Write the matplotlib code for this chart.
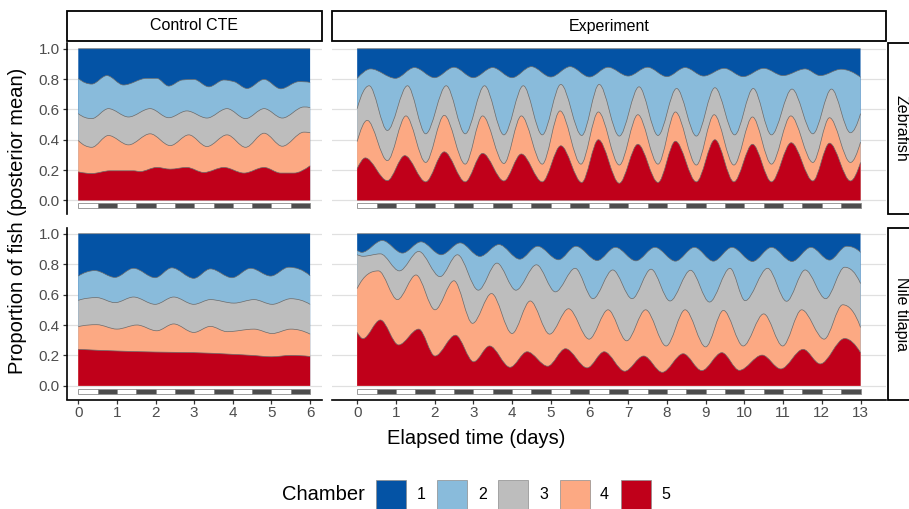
import numpy as np
import matplotlib
matplotlib.use("Agg")
import matplotlib.pyplot as plt
from matplotlib.path import Path
from matplotlib.patches import PathPatch, Rectangle

plt.rcParams["font.family"] = ["Liberation Sans", "DejaVu Sans"]

# ----------------------------------------
# chart data
# ----------------------------------------
chambers = ["1", "2", "3", "4", "5"]
chamber_colors = ["#0453A5", "#89BBDB", "#BDBDBD", "#FCA983", "#C0001A"]
species = ["Zebrafish", "Nile tilapia"]
treatments = ["Control CTE", "Experiment"]
n_days = [6, 13]
photoperiod = ["light", "dark"]          # each day: lights on, then off
photo_colors = {"light": "white", "dark": "#4D4D4D"}
y_ticks = [0.0, 0.2, 0.4, 0.6, 0.8, 1.0]

# upper edge of each stacked chamber band (time in days, cumulative proportion),
# read off the picture at the local peaks / troughs of each edge
zf_ctl_c1 = [(0, 1.0), (6, 1.0)]
zf_ctl_c2 = [(0, 0.805), (0.35, 0.767), (0.74, 0.823), (1.17, 0.761), (1.77, 0.805), (2.03, 0.805),
             (2.34, 0.754), (2.69, 0.794), (2.99, 0.798), (3.38, 0.749), (3.77, 0.794), (4.03, 0.783),
             (4.37, 0.738), (4.81, 0.798), (5.24, 0.736), (5.71, 0.783), (6.0, 0.778)]
zf_ctl_c3 = [(0, 0.572), (0.35, 0.539), (0.78, 0.605), (1.3, 0.55), (1.86, 0.605), (2.34, 0.545),
             (2.81, 0.59), (3.33, 0.543), (3.85, 0.605), (4.33, 0.539), (4.81, 0.605), (5.28, 0.543),
             (5.84, 0.616), (6.0, 0.612)]
zf_ctl_c4 = [(0, 0.395), (0.35, 0.35), (0.78, 0.428), (1.3, 0.366), (1.86, 0.439), (2.38, 0.361),
             (2.86, 0.432), (3.33, 0.355), (3.85, 0.432), (4.33, 0.35), (4.81, 0.443), (5.28, 0.357),
             (5.84, 0.45), (6.0, 0.446)]
zf_ctl_c5 = [(0, 0.188), (0.35, 0.177), (0.82, 0.195), (1.43, 0.195), (1.6, 0.19), (2.03, 0.217),
             (2.38, 0.206), (2.81, 0.217), (3.25, 0.184), (3.77, 0.217), (4.29, 0.18), (4.81, 0.217),
             (5.24, 0.18), (5.58, 0.18), (6.0, 0.228)]

zf_exp_c1 = [(0, 1.0), (13, 1.0)]
zf_exp_c2 = [(0, 0.805), (0.35, 0.867), (0.99, 0.805), (1.48, 0.876), (2.0, 0.809), (2.5, 0.878),
             (3.0, 0.809), (3.5, 0.876), (4.0, 0.809), (4.5, 0.882), (5.0, 0.814), (5.5, 0.882),
             (6.0, 0.814), (6.48, 0.878), (7.0, 0.82), (7.5, 0.878), (8.0, 0.816), (8.47, 0.876),
             (8.95, 0.82), (9.48, 0.871), (9.97, 0.816), (10.5, 0.871), (11.0, 0.823), (11.57, 0.867),
             (11.96, 0.823), (12.5, 0.865), (13.0, 0.812)]
zf_exp_c3 = [(0, 0.605), (0.31, 0.756), (0.78, 0.461), (1.3, 0.756), (1.77, 0.439), (2.3, 0.756),
             (2.79, 0.439), (3.29, 0.756), (3.79, 0.432), (4.29, 0.756), (4.78, 0.432), (5.26, 0.765),
             (5.8, 0.428), (6.25, 0.765), (6.77, 0.424), (7.28, 0.749), (7.77, 0.428), (8.25, 0.738),
             (8.76, 0.424), (9.24, 0.743), (9.75, 0.432), (10.23, 0.738), (10.7, 0.432), (11.23, 0.734),
             (11.77, 0.439), (12.25, 0.734), (12.74, 0.446), (13.0, 0.572)]
zf_exp_c4 = [(0, 0.388), (0.26, 0.528), (0.78, 0.262), (1.26, 0.557), (1.77, 0.25), (2.25, 0.561),
             (2.79, 0.239), (3.24, 0.557), (3.79, 0.243), (4.24, 0.557), (4.78, 0.239), (5.24, 0.59),
             (5.78, 0.239), (6.23, 0.583), (6.77, 0.233), (7.25, 0.565), (7.77, 0.239), (8.22, 0.583),
             (8.76, 0.233), (9.22, 0.565), (9.73, 0.233), (10.21, 0.55), (10.7, 0.239), (11.2, 0.557),
             (11.77, 0.25), (12.2, 0.545), (12.74, 0.25), (13.0, 0.384)]
zf_exp_c5 = [(0, 0.21), (0.21, 0.28), (0.78, 0.13), (1.23, 0.295), (1.77, 0.122), (2.25, 0.32),
             (2.79, 0.122), (3.24, 0.31), (3.79, 0.128), (4.24, 0.306), (4.78, 0.122), (5.26, 0.36),
             (5.8, 0.118), (6.23, 0.4), (6.77, 0.113), (7.25, 0.37), (7.77, 0.118), (8.22, 0.39),
             (8.76, 0.122), (9.24, 0.4), (9.73, 0.122), (10.21, 0.37), (10.7, 0.122), (11.21, 0.38),
             (11.77, 0.128), (12.2, 0.377), (12.74, 0.128), (13.0, 0.25)]

nt_ctl_c1 = [(0, 1.0), (6, 1.0)]
nt_ctl_c2 = [(0, 0.722), (0.43, 0.758), (0.95, 0.713), (1.43, 0.773), (1.99, 0.711), (2.42, 0.776),
             (2.99, 0.707), (3.42, 0.769), (3.98, 0.711), (4.46, 0.773), (4.98, 0.722), (5.45, 0.78),
             (6.0, 0.724)]
nt_ctl_c3 = [(0, 0.562), (0.48, 0.58), (0.95, 0.547), (1.43, 0.584), (1.99, 0.536), (2.47, 0.584),
             (2.99, 0.536), (3.42, 0.567), (4.03, 0.544), (4.55, 0.567), (5.02, 0.536), (5.5, 0.573),
             (6.0, 0.536)]
nt_ctl_c4 = [(0, 0.389), (0.48, 0.402), (1.0, 0.373), (1.52, 0.4), (2.03, 0.362), (2.47, 0.407),
             (2.99, 0.351), (3.42, 0.391), (3.85, 0.356), (4.55, 0.373), (5.02, 0.344), (5.5, 0.373),
             (6.0, 0.34)]
nt_ctl_c5 = [(0, 0.24), (1.0, 0.229), (2.0, 0.222), (3.0, 0.218), (4.0, 0.207), (4.5, 0.2),
             (5.0, 0.191), (5.5, 0.2), (6.0, 0.193)]

nt_exp_c1 = [(0, 1.0), (13, 1.0)]
nt_exp_c2 = [(0, 0.891), (0.12, 0.878), (0.65, 0.956), (1.17, 0.873), (1.65, 0.947), (2.17, 0.862),
             (2.66, 0.94), (3.17, 0.851), (3.66, 0.929), (4.2, 0.833), (4.66, 0.918), (5.2, 0.829),
             (5.65, 0.918), (6.2, 0.824), (6.67, 0.911), (7.2, 0.822), (7.69, 0.911), (8.22, 0.82),
             (8.71, 0.911), (9.2, 0.82), (9.68, 0.911), (10.21, 0.818), (10.7, 0.911), (11.23, 0.818),
             (11.72, 0.911), (12.2, 0.827), (12.64, 0.918), (13.0, 0.878)]
nt_exp_c3 = [(0, 0.862), (0.15, 0.852), (0.6, 0.868), (1.09, 0.756), (1.59, 0.884), (2.14, 0.718),
             (2.59, 0.862), (3.13, 0.629), (3.61, 0.807), (4.1, 0.629), (4.63, 0.796), (5.12, 0.618),
             (5.63, 0.773), (6.09, 0.573), (6.6, 0.762), (7.1, 0.573), (7.59, 0.767), (8.08, 0.558),
             (8.61, 0.76), (9.1, 0.551), (9.63, 0.773), (10.02, 0.56), (10.6, 0.773), (11.09, 0.556),
             (11.57, 0.762), (12.1, 0.573), (12.59, 0.78), (13.0, 0.673)]
nt_exp_c4 = [(0, 0.64), (0.55, 0.756), (1.04, 0.567), (1.52, 0.729), (2.01, 0.5), (2.5, 0.691),
             (2.98, 0.411), (3.47, 0.607), (4.0, 0.344), (4.47, 0.558), (4.97, 0.34), (5.46, 0.507),
             (5.99, 0.307), (6.48, 0.5), (6.96, 0.296), (7.45, 0.5), (7.98, 0.262), (8.47, 0.5),
             (9.0, 0.256), (9.46, 0.496), (9.97, 0.262), (10.5, 0.473), (10.99, 0.262), (11.48, 0.5),
             (12.06, 0.307), (12.54, 0.533), (13.0, 0.384)]
nt_exp_c5 = [(0, 0.351), (0.15, 0.31), (0.6, 0.433), (1.07, 0.269), (1.59, 0.373), (2.01, 0.196),
             (2.54, 0.333), (3.01, 0.158), (3.42, 0.262), (3.95, 0.122), (4.39, 0.224), (4.92, 0.129),
             (5.38, 0.244), (5.94, 0.118), (6.38, 0.224), (6.91, 0.096), (7.4, 0.196), (7.88, 0.089),
             (8.42, 0.211), (8.9, 0.1), (9.42, 0.218), (9.87, 0.102), (10.46, 0.202), (10.94, 0.111),
             (11.52, 0.24), (11.96, 0.144), (12.59, 0.311), (13.0, 0.218)]

edges = {
    ("Zebrafish", "Control CTE"): [zf_ctl_c1, zf_ctl_c2, zf_ctl_c3, zf_ctl_c4, zf_ctl_c5],
    ("Zebrafish", "Experiment"): [zf_exp_c1, zf_exp_c2, zf_exp_c3, zf_exp_c4, zf_exp_c5],
    ("Nile tilapia", "Control CTE"): [nt_ctl_c1, nt_ctl_c2, nt_ctl_c3, nt_ctl_c4, nt_ctl_c5],
    ("Nile tilapia", "Experiment"): [nt_exp_c1, nt_exp_c2, nt_exp_c3, nt_exp_c4, nt_exp_c5],
}


# ----------------------------------------
# smooth edge as a bezier path (monotone cubic slopes)
# ----------------------------------------
def edge_slopes(t, v):
    h = np.diff(t)
    d = np.diff(v) / h
    m = np.zeros_like(v)
    if len(v) == 2:
        m[:] = d[0]
        return m
    for k in range(1, len(v) - 1):
        if d[k - 1] * d[k] > 0:
            w1 = 2 * h[k] + h[k - 1]
            w2 = h[k] + 2 * h[k - 1]
            m[k] = (w1 + w2) / (w1 / d[k - 1] + w2 / d[k])

    def end(h0, h1, d0, d1):
        s = ((2 * h0 + h1) * d0 - h0 * d1) / (h0 + h1)
        if np.sign(s) != np.sign(d0):
            return 0.0
        if np.sign(d0) != np.sign(d1) and abs(s) > abs(3 * d0):
            return 3 * d0
        return s

    m[0] = end(h[0], h[1], d[0], d[1])
    m[-1] = end(h[-1], h[-2], d[-1], d[-2])
    return m


def edge_path(edge):
    t = np.array([p[0] for p in edge], float)
    v = np.array([p[1] for p in edge], float)
    m = edge_slopes(t, v)
    verts = [(t[0], v[0])]
    codes = [Path.MOVETO]
    for k in range(len(t) - 1):
        dt = (t[k + 1] - t[k]) / 3
        verts += [(t[k] + dt, v[k] + m[k] * dt),
                  (t[k + 1] - dt, v[k + 1] - m[k + 1] * dt),
                  (t[k + 1], v[k + 1])]
        codes += [Path.CURVE4] * 3
    return verts, codes


# ----------------------------------------
# layout (pixels of a 909 x 509 figure)
# ----------------------------------------
W, H = 909, 509
col_px = [(66.7, 321.7), (332.0, 885.7)]
row_px = [(42.7, 214.0), (227.7, 399.5)]
x_lims = [(-0.3, 6.3), (-0.65, 13.65)]

fig = plt.figure(figsize=(W / 100, H / 100), dpi=100)


def fig_box(x0, y0, x1, y1):
    return [x0 / W, 1 - y1 / H, (x1 - x0) / W, (y1 - y0) / H]


for i, sp in enumerate(species):
    for j, tr in enumerate(treatments):
        ax = fig.add_axes(fig_box(col_px[j][0], row_px[i][0], col_px[j][1], row_px[i][1]))
        ax.set_xlim(*x_lims[j])
        ax.set_ylim(-0.09, 1.04)

        for k, edge in enumerate(edges[(sp, tr)]):
            verts, codes = edge_path(edge)
            t0, t1 = edge[0][0], edge[-1][0]
            fill_verts = [(t0, 0.0)] + verts + [(t1, 0.0), (t0, 0.0)]
            fill_codes = [Path.MOVETO, Path.LINETO] + codes[1:] + [Path.LINETO, Path.CLOSEPOLY]
            ax.add_patch(PathPatch(Path(fill_verts, fill_codes), facecolor=chamber_colors[k],
                                   edgecolor="none", zorder=2))
        for edge in edges[(sp, tr)]:
            verts, codes = edge_path(edge)
            ax.add_patch(PathPatch(Path(verts, codes), fill=False, edgecolor="#6a6a6a",
                                   linewidth=0.5, zorder=3))

        # light / dark bar under the areas
        starts, cols = [], []
        for d in range(n_days[j]):
            for p, phase in enumerate(photoperiod):
                starts.append(d + p / len(photoperiod))
                cols.append(photo_colors[phase])
        ax.bar(starts, 0.034, width=1 / len(photoperiod), bottom=-0.052, align="edge",
               color=cols, edgecolor="#8c8c8c", linewidth=0.6, zorder=2)

        ax.set_axisbelow(True)
        ax.set_yticks(y_ticks)
        ax.yaxis.grid(True, color="#E0E0E0", linewidth=0.9)
        ax.set_xticks(range(n_days[j] + 1))
        for s in ["top", "right", "left", "bottom"]:
            ax.spines[s].set_visible(False)
        ax.tick_params(colors="#333333", labelcolor="#4D4D4D", labelsize=11, width=0.9, length=3)

        if j == 0:
            ax.spines["left"].set_visible(True)
            ax.spines["left"].set_linewidth(1.2)
            ax.set_yticklabels([f"{y:.1f}" for y in y_ticks])
            ax.tick_params(axis="y", pad=2)
        else:
            ax.tick_params(axis="y", length=0, labelleft=False)
        if i == 1:
            ax.spines["bottom"].set_visible(True)
            ax.spines["bottom"].set_linewidth(1.2)
            ax.tick_params(axis="x", pad=2)
        else:
            ax.tick_params(axis="x", length=0, labelbottom=False)

# facet strips
for j, tr in enumerate(treatments):
    x0, x1 = col_px[j]
    fig.add_artist(Rectangle(fig_box(x0, 11, x1, 40.7)[:2], (x1 - x0) / W, 29.7 / H,
                             transform=fig.transFigure, facecolor="white",
                             edgecolor="black", linewidth=1.3))
    fig.text((x0 + x1) / 2 / W, 1 - 26 / H, tr, ha="center", va="center", fontsize=11.5)
for i, sp in enumerate(species):
    y0, y1 = row_px[i]
    fig.add_artist(Rectangle(fig_box(887.7, y0, 918, y1)[:2], 30.3 / W, (y1 - y0) / H,
                             transform=fig.transFigure, facecolor="white",
                             edgecolor="black", linewidth=1.3, clip_on=False))
    fig.text(901 / W, 1 - (y0 + y1) / 2 / H, sp, ha="center", va="center",
             rotation=-90, fontsize=11.5)

# axis titles
fig.text(18 / W, 1 - 221 / H, "Proportion of fish (posterior mean)", rotation=90,
         ha="center", va="center", fontsize=14.5)
fig.text(476 / W, 1 - 438 / H, "Elapsed time (days)", ha="center", va="center", fontsize=14.5)

# legend: title on the left, keys in one row
fig.text(282 / W, 1 - 494 / H, "Chamber", ha="left", va="center", fontsize=14.5)
for k, (lab, col) in enumerate(zip(chambers, chamber_colors)):
    kx = 376 + 61.2 * k
    fig.add_artist(Rectangle(fig_box(kx, 480, kx + 30, 509)[:2], 30 / W, 29 / H,
                             transform=fig.transFigure, facecolor=col,
                             edgecolor="#8c8c8c", linewidth=0.5))
    fig.text((kx + 45) / W, 1 - 494.5 / H, lab, ha="center", va="center", fontsize=11.5)

fig.savefig("out.png", dpi=100)
